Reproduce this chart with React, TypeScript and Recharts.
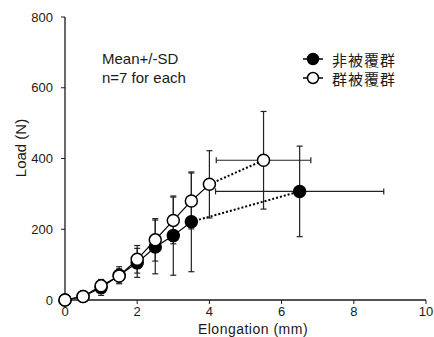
import React from 'react';
import { ComposedChart, Line, Scatter, XAxis, YAxis, ErrorBar, Customized } from 'recharts';

const xUncoated = [0, 0.5, 1, 1.5, 2, 2.5, 3, 3.5, 6.5];
const yUncoated = [0, 10, 35, 70, 105, 150, 182, 221, 307];
const sdYUncoated = [0, 5, 22, 24, 41, 76, 112, 141, 128];
const sdXUncoated = [0, 0, 0, 0, 0, 0, 0, 0, 2.33];

const xCoated = [0, 0.5, 1, 1.5, 2, 2.5, 3, 3.5, 4, 5.5];
const yCoated = [0, 10, 40, 68, 115, 170, 225, 280, 327, 395];
const sdYCoated = [0, 5, 18, 20, 39, 60, 66, 79, 95, 138];
const sdXCoated = [0, 0, 0, 0, 0, 0, 0, 0, 0, 1.31];

const seriesNames = ['非被覆群', '群被覆群'];
const xTicks = [0, 2, 4, 6, 8, 10];
const yTicks = [0, 200, 400, 600, 800];
const noteLines = ['Mean+/-SD', 'n=7 for each'];
const xTitle = 'Elongation (mm)';
const yTitle = 'Load (N)';

const build = (xs: number[], ys: number[], ex: number[], ey: number[]) =>
  xs.map((x, i) => ({ x, y: ys[i], ex: ex[i], ey: ey[i] }));

const uncoated = build(xUncoated, yUncoated, sdXUncoated, sdYUncoated);
const coated = build(xCoated, yCoated, sdXCoated, sdYCoated);

const FONT = '"Liberation Sans", Arial, sans-serif';
const CJK = '"Noto Sans CJK JP", "Noto Sans CJK SC", sans-serif';
const INK = '#1a1a1a';

const filledDot = (p: any) => (
  <circle cx={p.cx} cy={p.cy} r={6} fill="#000" stroke="#000" strokeWidth={1.5} />
);
const openDot = (p: any) => (
  <circle cx={p.cx} cy={p.cy} r={6} fill="#fff" stroke="#000" strokeWidth={1.5} />
);

const Overlay = () => (
  <g>
    <text x={102} y={58} fontSize={15} fontFamily={FONT} fill={INK} dominantBaseline="central">
      {noteLines[0]}
    </text>
    <text x={102} y={77} fontSize={15} fontFamily={FONT} fill={INK} dominantBaseline="central">
      {noteLines[1]}
    </text>
    <line x1={303} y1={59} x2={323} y2={59} stroke="#000" strokeWidth={1.5} />
    <circle cx={313} cy={59} r={5.5} fill="#000" stroke="#000" strokeWidth={1.5} />
    <text x={332} y={59} fontSize={15} letterSpacing={1} fontFamily={CJK} fill={INK} dominantBaseline="central">
      {seriesNames[0]}
    </text>
    <line x1={303} y1={78} x2={323} y2={78} stroke="#000" strokeWidth={1.5} />
    <circle cx={313} cy={78} r={5.5} fill="#fff" stroke="#000" strokeWidth={1.5} />
    <text x={332} y={78} fontSize={15} letterSpacing={1} fontFamily={CJK} fill={INK} dominantBaseline="central">
      {seriesNames[1]}
    </text>
    <text
      x={253}
      y={329}
      fontSize={14}
      letterSpacing={0.5}
      fontFamily={FONT}
      fill={INK}
      textAnchor="middle"
      dominantBaseline="central"
    >
      {xTitle}
    </text>
    <text
      x={20}
      y={148}
      fontSize={15}
      fontFamily={FONT}
      fill={INK}
      textAnchor="middle"
      dominantBaseline="central"
      transform="rotate(-90 20 148)"
    >
      {yTitle}
    </text>
  </g>
);

export default function App() {
  const tickStyle = { fontSize: 13, fontFamily: FONT, fill: INK };
  return (
    <div style={{ position: 'absolute', left: 0, top: 0, background: '#fff' }}>
      <ComposedChart
        width={434}
        height={337}
        margin={{ top: 17, right: 8, left: 0, bottom: 7 }}
        style={{ fontFamily: FONT }}
      >
        <XAxis
          dataKey="x"
          type="number"
          domain={[0, 10]}
          ticks={xTicks}
          height={30}
          tickSize={4}
          tickMargin={3}
          tick={tickStyle}
          axisLine={{ stroke: INK, strokeWidth: 1.3 }}
          tickLine={{ stroke: INK }}
        />
        <YAxis
          dataKey="y"
          type="number"
          domain={[0, 800]}
          ticks={yTicks}
          width={65}
          tickSize={4}
          tickMargin={8}
          tick={tickStyle}
          axisLine={{ stroke: INK, strokeWidth: 1.3 }}
          tickLine={{ stroke: INK }}
        />
        <Line
          data={uncoated.slice(0, uncoated.length - 1)}
          dataKey="y"
          stroke="#000"
          strokeWidth={1.2}
          dot={false}
          isAnimationActive={false}
        />
        <Line
          data={uncoated.slice(uncoated.length - 2)}
          dataKey="y"
          stroke="#000"
          strokeWidth={2}
          strokeDasharray="2 2"
          dot={false}
          isAnimationActive={false}
        />
        <Line
          data={coated.slice(0, coated.length - 1)}
          dataKey="y"
          stroke="#000"
          strokeWidth={1.2}
          dot={false}
          isAnimationActive={false}
        />
        <Line
          data={coated.slice(coated.length - 2)}
          dataKey="y"
          stroke="#000"
          strokeWidth={2}
          strokeDasharray="2 2"
          dot={false}
          isAnimationActive={false}
        />
        <Scatter data={uncoated} dataKey="y" shape={filledDot} isAnimationActive={false}>
          <ErrorBar dataKey="ey" direction="y" width={3} stroke="#222" strokeWidth={1.2} />
          <ErrorBar dataKey="ex" direction="x" width={3} stroke="#222" strokeWidth={1.2} />
        </Scatter>
        <Scatter data={coated} dataKey="y" shape={openDot} isAnimationActive={false}>
          <ErrorBar dataKey="ey" direction="y" width={3} stroke="#222" strokeWidth={1.2} />
          <ErrorBar dataKey="ex" direction="x" width={3} stroke="#222" strokeWidth={1.2} />
        </Scatter>
        <Customized component={Overlay} />
      </ComposedChart>
    </div>
  );
}
